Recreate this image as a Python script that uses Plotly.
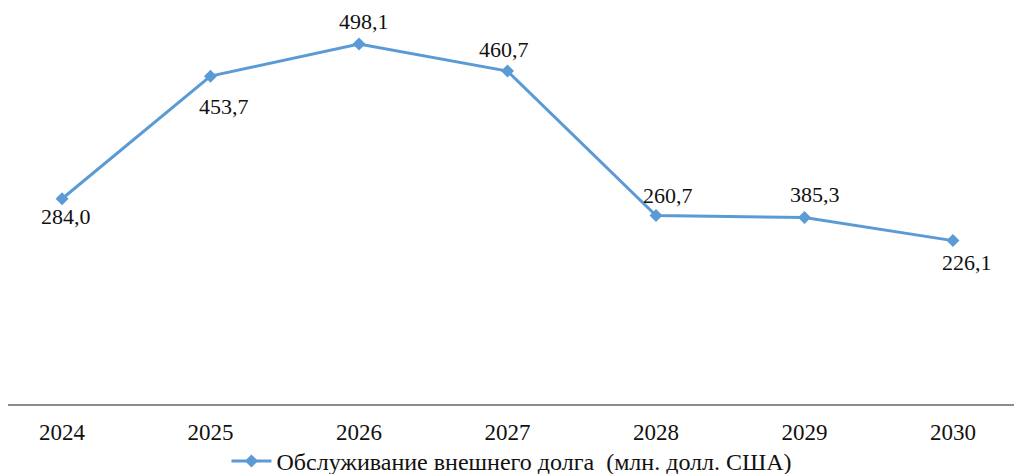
import plotly.graph_objects as go

years = [2024, 2025, 2026, 2027, 2028, 2029, 2030]
# plotted positions (2029 point sits lower than its label)
values = [284.0, 453.7, 498.1, 460.7, 260.7, 258.0, 226.1]
labels = ["284,0", "453,7", "498,1", "460,7", "260,7", "385,3", "226,1"]
label_dx = [4, 13, 5, -4, 12, 11, 14]
label_dy = [-18, -30, 23, 22, 20, 23, -22]
series_name = "Обслуживание внешнего долга  (млн. долл. США)"

color = "#5b9bd5"
font = "Liberation Serif, Times New Roman, serif"

fig = go.Figure()
fig.add_trace(go.Scatter(
    x=years, y=values, mode="lines+markers",
    name=series_name,
    line=dict(color=color, width=3),
    marker=dict(symbol="diamond", size=10, color=color),
    cliponaxis=False,
))

for yr, v, t, dx, dy in zip(years, values, labels, label_dx, label_dy):
    fig.add_annotation(x=yr, y=v, text=t, showarrow=False, xshift=dx, yshift=dy,
                       xanchor="center", yanchor="middle",
                       font=dict(family=font, size=22, color="#111111"))

# page body has an 8px margin, so the figure is drawn 8px in from the corner
fig.update_layout(
    width=1014, height=466,
    margin=dict(l=0, r=0, t=0, b=70, autoexpand=False),
    plot_bgcolor="white", paper_bgcolor="white",
    font=dict(family=font, size=23, color="#111111"),
    showlegend=True,
    legend=dict(orientation="h", x=0.497, xanchor="center", y=-0.088, yanchor="top",
                bgcolor="rgba(0,0,0,0)",
                font=dict(family=font, size=24, color="#111111"),
                itemwidth=40, tracegroupgap=0),
    xaxis=dict(range=[2023.636, 2030.465], tickmode="array", tickvals=years,
               ticktext=[str(y) for y in years], showgrid=False, zeroline=False,
               showline=True, linecolor="#8c8c8c", linewidth=2, ticks="",
               ticklabelstandoff=6),
    yaxis=dict(range=[0, 548], visible=False, showgrid=False, zeroline=False),
)

fig.write_html("out.html")
